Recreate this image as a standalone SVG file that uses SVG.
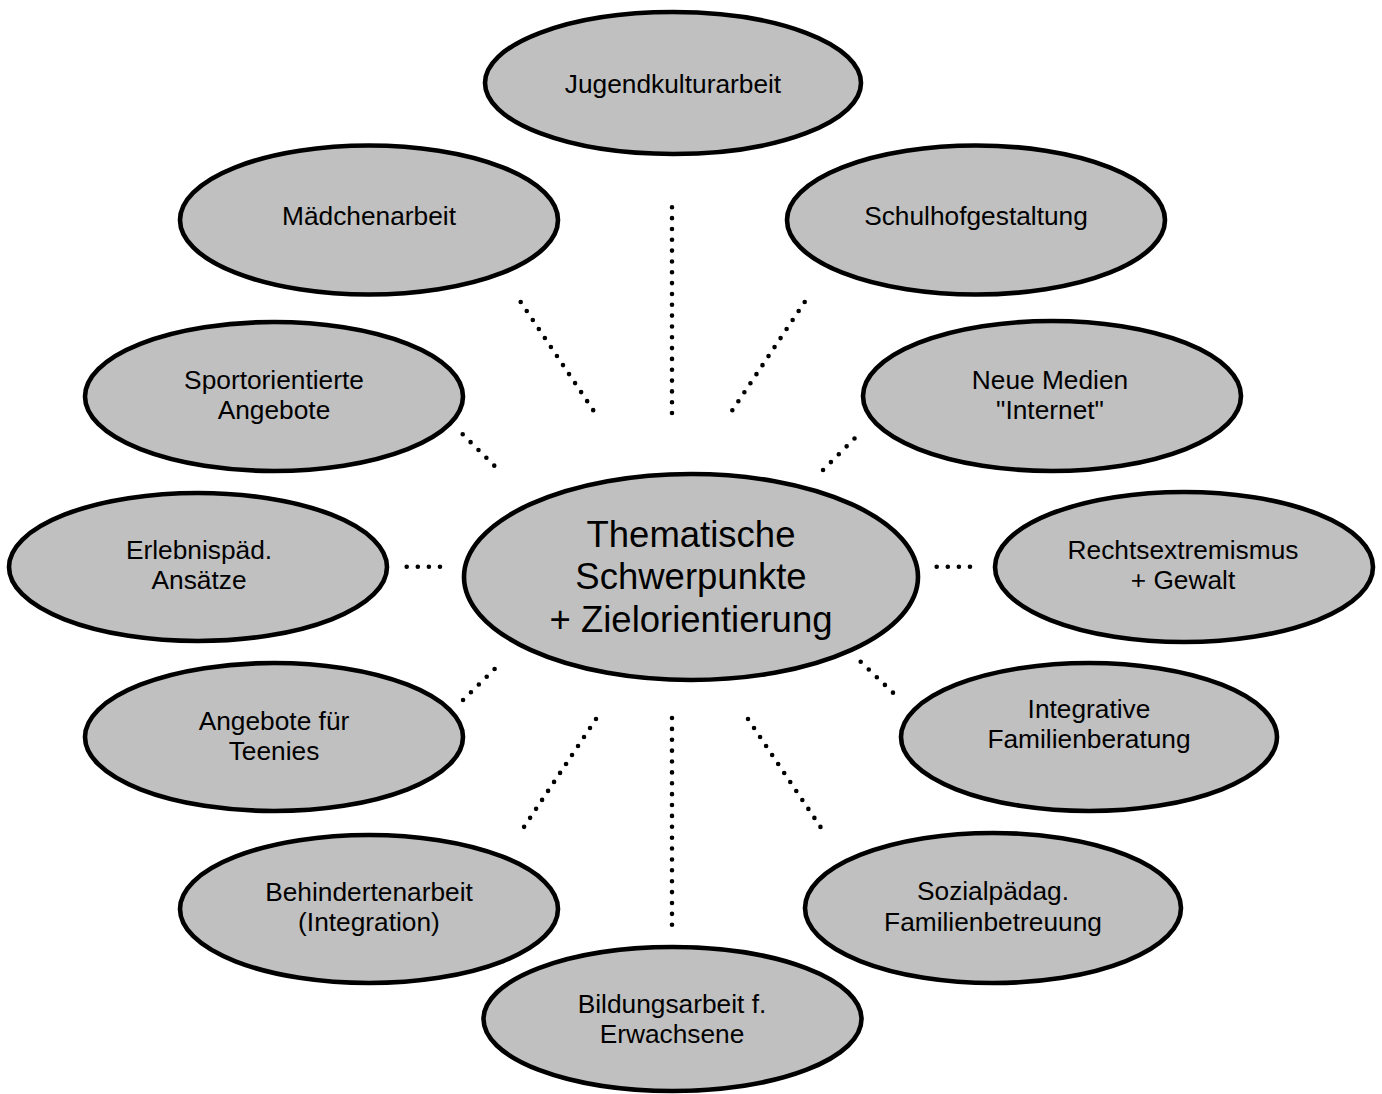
<svg xmlns="http://www.w3.org/2000/svg" width="1382" height="1094" viewBox="0 0 1382 1094">
<style>
.n ellipse{fill:#c0c0c0;stroke:#000;stroke-width:4.6}
.n text{font-family:"Liberation Sans",Arial,sans-serif;font-size:26.3px;fill:#000;text-anchor:middle}
#center text{font-size:36.5px}
.c line{stroke:#000;stroke-width:4.6;stroke-linecap:round;fill:none}
</style>
<rect width="1382" height="1094" fill="#fff"/>
<g id="connectors" class="c">
<line x1="672" y1="207.3" x2="672" y2="413.3" stroke-dasharray="0 10.83"/>
<line x1="520.7" y1="302" x2="593.3" y2="410.3" stroke-dasharray="0 10.85"/>
<line x1="804.7" y1="302" x2="732.3" y2="410.3" stroke-dasharray="0 10.85"/>
<line x1="462.7" y1="434.3" x2="494.3" y2="465.7" stroke-dasharray="0 11.12"/>
<line x1="854.5" y1="438.5" x2="823" y2="470" stroke-dasharray="0 11.12"/>
<line x1="406.7" y1="566.7" x2="440" y2="566.7" stroke-dasharray="0 11.09"/>
<line x1="936.7" y1="566.7" x2="970" y2="566.7" stroke-dasharray="0 11.09"/>
<line x1="494.6" y1="669" x2="463" y2="700" stroke-dasharray="0 11.05"/>
<line x1="860.7" y1="661.7" x2="893" y2="692.7" stroke-dasharray="0 11.18"/>
<line x1="596" y1="719" x2="524" y2="827" stroke-dasharray="0 10.8"/>
<line x1="672" y1="718" x2="672" y2="925" stroke-dasharray="0 10.88"/>
<line x1="748" y1="719" x2="820.5" y2="827" stroke-dasharray="0 10.83"/>
</g>
<g id="jugendkulturarbeit" class="n"><ellipse cx="673" cy="83" rx="188" ry="71"/><text x="673" y="92.5">Jugendkulturarbeit</text></g>
<g id="maedchenarbeit" class="n"><ellipse cx="369" cy="220" rx="189" ry="74.5"/><text x="369" y="225">Mädchenarbeit</text></g>
<g id="schulhofgestaltung" class="n"><ellipse cx="976" cy="220" rx="189" ry="74.5"/><text x="976" y="225">Schulhofgestaltung</text></g>
<g id="sport" class="n"><ellipse cx="274" cy="396.5" rx="189" ry="74.5"/><text x="274" y="389.3">Sportorientierte</text><text x="274" y="419.3">Angebote</text></g>
<g id="medien" class="n"><ellipse cx="1052" cy="396" rx="189" ry="75"/><text x="1050" y="389.3">Neue Medien</text><text x="1050" y="419.3">"Internet"</text></g>
<g id="erlebnis" class="n"><ellipse cx="198" cy="567" rx="189" ry="74"/><text x="199" y="559.3">Erlebnispäd.</text><text x="199" y="589.3">Ansätze</text></g>
<g id="rechts" class="n"><ellipse cx="1184" cy="567" rx="189" ry="75"/><text x="1183" y="559.3">Rechtsextremismus</text><text x="1183" y="589.3">+ Gewalt</text></g>
<g id="center" class="n"><ellipse cx="691" cy="577" rx="227" ry="103"/><text x="691" y="547.3">Thematische</text><text x="691" y="589.3">Schwerpunkte</text><text x="691" y="631.7">+ Zielorientierung</text></g>
<g id="teenies" class="n"><ellipse cx="274" cy="737" rx="189" ry="74"/><text x="274" y="730">Angebote für</text><text x="274" y="760">Teenies</text></g>
<g id="integrative" class="n"><ellipse cx="1089" cy="737" rx="188" ry="74"/><text x="1089" y="718">Integrative</text><text x="1089" y="747.5">Familienberatung</text></g>
<g id="behinderten" class="n"><ellipse cx="369" cy="909" rx="189" ry="74"/><text x="369" y="901">Behindertenarbeit</text><text x="369" y="931">(Integration)</text></g>
<g id="sozial" class="n"><ellipse cx="993" cy="908" rx="188" ry="75"/><text x="993" y="900">Sozialpädag.</text><text x="993" y="930.5">Familienbetreuung</text></g>
<g id="bildung" class="n"><ellipse cx="672.5" cy="1019" rx="189" ry="72"/><text x="672" y="1013.3">Bildungsarbeit f.</text><text x="672" y="1043.3">Erwachsene</text></g>
</svg>
